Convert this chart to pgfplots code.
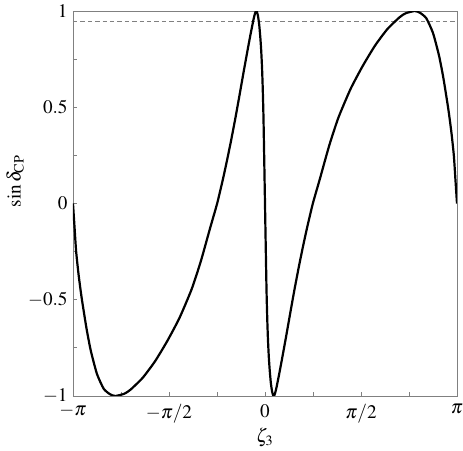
\documentclass[border=0pt]{standalone}
\usepackage{mathptmx}
\usepackage[no-math]{fontspec}
\setmainfont{Liberation Serif}
\usepackage{pgfplots}
\pgfplotsset{compat=1.18}

\begin{document}
\begin{tikzpicture}
\path[use as bounding box] (-36.5pt,-27.5pt) rectangle (195pt,198pt);
\begin{axis}[
  scale only axis,
  width=192pt, height=192.5pt,
  xmin=-3.14159, xmax=3.14159,
  ymin=-1, ymax=1,
  xtick={-3.14159,-2.35619,-1.5708,-0.785398,0,0.785398,1.5708,2.35619,3.14159},
  xticklabels={$-\pi$,,$-\pi/2$,,$0$,,$\pi/2$,,$\pi$},
  ytick={-1,-0.75,-0.5,-0.25,0,0.25,0.5,0.75,1},
  yticklabels={$-1$,,$-0.5$,,$0$,,$0.5$,,$1$},
  xtick pos=bottom, ytick pos=left,
  tick align=inside,
  major tick length=2pt,
  axis line style={black!50, line width=0.4pt},
  tick style={black!50, line width=0.4pt},
  tick label style={font=\fontsize{9.6}{11}\selectfont},
  label style={font=\fontsize{9.6}{11}\selectfont},
  xticklabel style={anchor=north, inner sep=0pt, yshift=-4pt},
  yticklabel style={anchor=east, inner sep=0pt, xshift=-2.5pt},
  xlabel={$\zeta_3$},
  ylabel={$\sin\delta_{\mathrm{CP}}$},
  xlabel style={at={(axis description cs:0.5,-0.108)}, anchor=center},
  ylabel style={at={(axis description cs:-0.151,0.558)}, anchor=center},
  clip=true,
]
% dashed reference level
\addplot[black!50, line width=0.7pt, dash pattern=on 2.2pt off 1.5pt]
  coordinates {(-3.14159,0.944)(3.14159,0.944)};
% sin delta_CP vs zeta_3
\addplot[black, line width=1.1pt, smooth, tension=0.35]
  coordinates {
    (-3.1416,0)(-3.115,-0.13)(-3.09,-0.25)(-3.05,-0.37)(-3.00,-0.49)(-2.92,-0.65)
    (-2.85,-0.765)(-2.75,-0.885)(-2.64,-0.962)(-2.54,-0.99)(-2.45,-1.00)
    (-2.30,-0.988)(-2.20,-0.967)(-2.00,-0.905)(-1.80,-0.820)(-1.60,-0.715)
    (-1.40,-0.595)(-1.20,-0.445)(-1.05,-0.300)(-0.90,-0.130)(-0.783,0)
    (-0.69,0.124)(-0.622,0.223)(-0.555,0.327)(-0.486,0.441)(-0.42,0.557)
    (-0.35,0.683)(-0.29,0.788)(-0.24,0.873)(-0.19,0.953)
    (-0.165,0.986)(-0.147,1.0)(-0.132,0.995)(-0.115,0.975)(-0.095,0.93)
    (-0.077,0.865)(-0.063,0.80)(-0.049,0.71)(-0.037,0.60)(-0.025,0.45)
    (-0.012,0.22)(0,0)
    (0.012,-0.22)(0.025,-0.45)(0.037,-0.60)(0.049,-0.71)(0.063,-0.80)
    (0.077,-0.865)(0.095,-0.93)(0.115,-0.975)(0.132,-0.995)(0.147,-1.0)
    (0.165,-0.986)(0.19,-0.953)(0.24,-0.873)(0.29,-0.788)
    (0.35,-0.683)(0.42,-0.557)(0.486,-0.441)(0.555,-0.327)(0.622,-0.223)
    (0.69,-0.124)(0.783,0)(0.90,0.130)(1.05,0.300)(1.20,0.445)
    (1.40,0.595)(1.60,0.715)(1.80,0.820)(2.00,0.905)(2.20,0.967)
    (2.30,0.988)(2.45,1.00)(2.54,0.99)(2.64,0.962)(2.75,0.885)
    (2.85,0.765)(2.92,0.65)(3.00,0.49)(3.05,0.37)(3.09,0.25)(3.115,0.13)
    (3.1416,0)
  };
\end{axis}
\end{tikzpicture}
\end{document}
